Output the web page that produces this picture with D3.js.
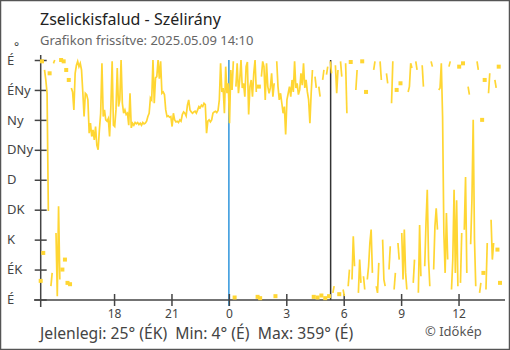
<!DOCTYPE html>
<html><head><meta charset="utf-8">
<script src="https://cdn.jsdelivr.net/npm/d3@7"></script>
<style>html,body{margin:0;padding:0;background:#fff}svg{display:block}text{font-family:"Noto Sans",sans-serif}</style>
</head><body><svg id="c" width="510" height="350"></svg>
<script>
const titleText = "Zselickisfalud - Szélirány";
const subtitleText = "Grafikon frissítve: 2025.05.09 14:10";
const footerText = "Jelenlegi: 25° (ÉK)  Min: 4° (É)  Max: 359° (É)";
const creditText = "© Időkép";
const unitText = "°";
const dirTicks = [0, 45, 90, 135, 180, 225, 270, 315, 360];
const dirLabels = ["É", "ÉK", "K", "DK", "D", "DNy", "Ny", "ÉNy", "É"];
const hourTicks = [18, 21, 0, 3, 6, 9, 12];
const startTime = new Date(2025, 4, 8, 14, 10);
const endTime = new Date(2025, 4, 9, 14, 10);
const stepMinutes = 4;
const midnightTime = new Date(2025, 4, 9, 0, 0);
const sunriseTime = new Date(2025, 4, 9, 5, 19);
// wind direction (degrees), one value every 4 minutes from 14:10
const directions = [
  28, 358, 70, 345, 330, 310, 133, 340, 20, 40, 355, 360, 100, 5, 140,
  30, 360, 45, 358, 60, 345, 25, 330, 23, 318, 312, 285, 340, 352, 358,
  350, 355, 345, 312, 275, 310, 308, 300, 250, 265, 245, 255, 240, 260, 232,
  225, 255, 280, 355, 275, 285, 270, 268, 272, 245, 290, 358, 262, 260, 285,
  348, 290, 300, 360, 295, 280, 285, 278, 280, 262, 310, 258, 265, 262, 266,
  264, 266, 263, 265, 262, 266, 264, 265, 268, 275, 280, 303, 300, 360, 295,
  333, 335, 360, 332, 358, 310, 312, 308, 285, 275, 276, 274, 275, 260, 280,
  270, 267, 268, 266, 270, 268, 278, 282, 280, 276, 292, 300, 285, 282, 280,
  282, 283, 280, 285, 290, 288, 292, 290, 295, 293, 250, 268, 270, 267, 270,
  280, 282, 283, 281, 284, 300, 355, 312, 318, 280, 350, 310, 325, 265, 345,
  315, 358, 3, 320, 355, 310, 330, 360, 318, 325, 305, 350, 357, 278, 320,
  330, 305, 340, 360, 312, 4, 320, 2, 335, 358, 350, 300, 355, 320, 310,
  318, 340, 305, 325, 5, 358, 320, 300, 310, 295, 280, 290, 248, 300, 310,
  320, 305, 330, 312, 358, 318, 325, 308, 315, 340, 322, 355, 318, 330, 312,
  300, 265, 310, 345, 4, 335, 318, 3, 320, 305, 6, 330, 345, 2, 338,
  350, 5, 358, 340, 10, 20, 352, 310, 345, 8, 358, 335, 15, 5, 355,
  280, 20, 45, 357, 30, 95, 50, 315, 345, 10, 60, 25, 358, 35, 15,
  312, 30, 50, 85, 105, 40, 345, 358, 20, 10, 55, 358, 330, 90, 30,
  20, 340, 325, 45, 80, 295, 358, 15, 40, 315, 85, 60, 325, 100, 30,
  105, 40, 15, 312, 320, 355, 348, 25, 60, 358, 345, 10, 112, 35, 352,
  320, 50, 115, 165, 60, 20, 358, 350, 45, 110, 137, 105, 315, 318, 355,
  275, 100, 40, 130, 60, 350, 358, 15, 60, 165, 40, 149, 20, 350, 25,
  100, 355, 105, 184, 40, 320, 308, 83, 150, 270, 90, 20, 358, 345, 10,
  25, 270, 40, 330, 15, 85, 310, 340, 120, 60, 85, 330, 318, 75, 350,
  25
];

(function () {
const svg = d3.select("#c");
const W = 510, H = 350;
const plotLeft = 40.7, plotRight = 500, plotTop = 60, plotBottom = 299.5;
const yellow = "#ffd633", axisCol = "#444";

svg.append("rect").attr("x", 0.5).attr("y", 0.5).attr("width", W - 1).attr("height", H - 1)
  .attr("fill", "#fff").attr("stroke", "#555").attr("stroke-width", 1.5);

const x = d3.scaleTime().domain([startTime, endTime]).range([plotLeft, plotRight]);
const y = d3.scaleLinear().domain([0, 360]).range([plotBottom, plotTop]);

const data = directions.map((d, i) => ({ t: new Date(startTime.getTime() + i * stepMinutes * 60000), v: d }));

svg.append("text").attr("x", 40).attr("y", 25).attr("font-size", 16).attr("fill", "#222").text(titleText);
svg.append("text").attr("x", 40).attr("y", 45).attr("font-size", 13).attr("fill", "#666").text(subtitleText);

svg.append("line").attr("x1", x(midnightTime)).attr("x2", x(midnightTime)).attr("y1", plotTop).attr("y2", 306)
  .attr("stroke", "#2f95dc").attr("stroke-width", 1.5);
svg.append("line").attr("x1", x(sunriseTime)).attr("x2", x(sunriseTime)).attr("y1", plotTop).attr("y2", 300)
  .attr("stroke", "#333").attr("stroke-width", 1.5);

const gy = svg.append("g").attr("transform", `translate(${plotLeft},0)`)
  .call(d3.axisLeft(y).tickValues(dirTicks).tickSize(6).tickFormat((d, i) => dirLabels[i]));
gy.select(".domain").remove();
gy.selectAll(".tick line").attr("x1", 6).attr("stroke", axisCol).attr("stroke-width", 1.5);
gy.selectAll(".tick text").attr("x", 7 - plotLeft).attr("text-anchor", "start").attr("font-size", 13)
  .attr("fill", "#444").attr("font-family", "Noto Sans");
svg.append("line").attr("x1", plotLeft).attr("x2", plotLeft).attr("y1", 55).attr("y2", 307)
  .attr("stroke", axisCol).attr("stroke-width", 1.5);
svg.append("text").attr("x", 14).attr("y", 51).attr("font-size", 12).attr("fill", "#444").text(unitText);

const tickDates = hourTicks.map(h => h >= 14 ? new Date(2025, 4, 8, h, 0) : new Date(2025, 4, 9, h, 0));
const gx = svg.append("g").attr("transform", "translate(0,300)")
  .call(d3.axisBottom(x).tickValues(tickDates).tickSize(6).tickFormat(d => String(d.getHours())));
gx.select(".domain").remove();
gx.selectAll(".tick line").attr("y1", -6).attr("stroke", axisCol).attr("stroke-width", 1.5);
gx.selectAll(".tick text").attr("y", 0).attr("dy", null).attr("font-size", 12).attr("fill", "#444")
  .attr("font-family", "Noto Sans").attr("transform", "translate(0,18.4)");
svg.append("line").attr("x1", 34).attr("x2", 505).attr("y1", 300).attr("y2", 300)
  .attr("stroke", axisCol).attr("stroke-width", 1.5);

const segments = [];
let cur = [];
data.forEach((d, i) => {
  if (i > 0 && Math.abs(d.v - data[i - 1].v) > 200) { segments.push(cur); cur = []; }
  cur.push(d);
});
segments.push(cur);

const line = d3.line().x(d => x(d.t)).y(d => y(d.v));
const gd = svg.append("g");
gd.selectAll("path").data(segments.filter(s => s.length > 1)).join("path")
  .attr("d", line).attr("fill", "none").attr("stroke", yellow).attr("stroke-width", 1.7);
gd.selectAll("rect").data(segments.filter(s => s.length === 1).map(s => s[0])).join("rect")
  .attr("x", d => x(d.t) - 2).attr("y", d => y(d.v) - 2).attr("width", 4).attr("height", 4).attr("fill", yellow);

svg.append("text").attr("x", 40).attr("y", 338.8).attr("font-size", 15.7).attr("fill", "#444")
  .style("white-space", "pre").text(footerText);
svg.append("text").attr("x", 425).attr("y", 336).attr("font-size", 13).attr("fill", "#555").text(creditText);
})();
</script></body></html>
